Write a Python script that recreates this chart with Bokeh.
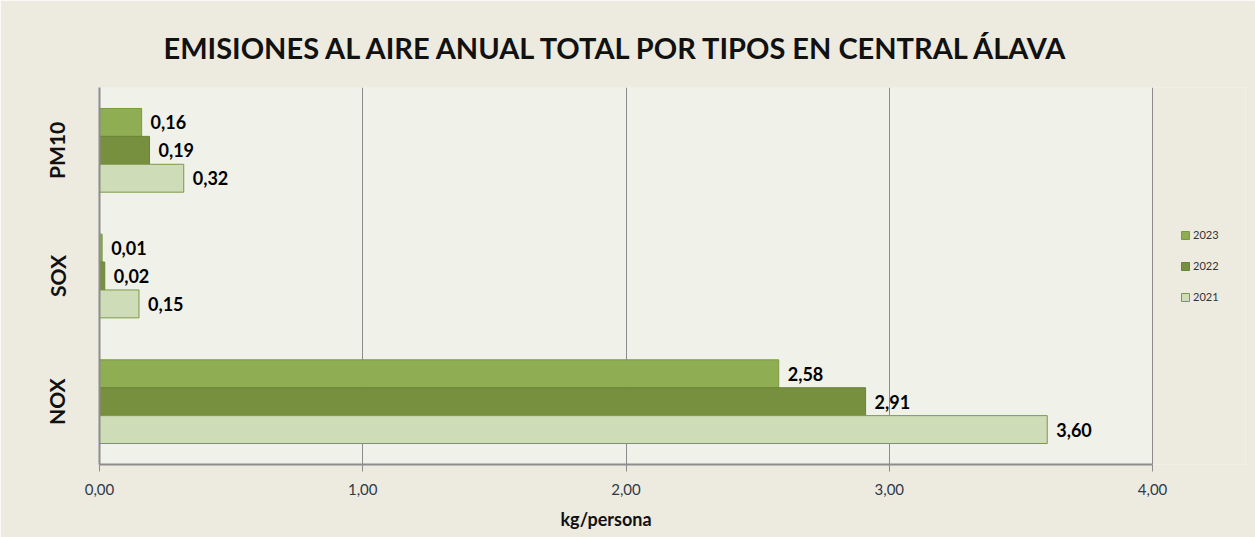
from bokeh.plotting import figure
from bokeh.models import (FactorRange, Range1d, ColumnDataSource, Legend, LegendItem,
                          FixedTicker, BoxAnnotation, Title)
from bokeh.transform import dodge
from bokeh.core.properties import value
from bokeh.embed import file_html
from bokeh.resources import INLINE

categories = ["NOX", "SOX", "PM10"]
years = ["2023", "2022", "2021"]
v2023 = [2.58, 0.01, 0.16]
v2022 = [2.91, 0.02, 0.19]
v2021 = [3.60, 0.15, 0.32]
x_ticks = [0, 1, 2, 3, 4]
x_tick_labels = ["0,00", "1,00", "2,00", "3,00", "4,00"]
x_max = 4

FONT = "Lato"
OUTER = "#EDEAE0"
INNER = "#F0F1E9"
fills = {"2023": "#8FAE53", "2022": "#76903F", "2021": "#CEDCB8"}
lines = {"2023": "#7A9A40", "2022": "#6A8436", "2021": "#7C9A45"}
offsets = {"2023": 0.222, "2022": 0.0, "2021": -0.222}
series = {"2023": v2023, "2022": v2022, "2021": v2021}

# frame spans the legend area too; the axis/plot area itself covers 0..4
p = figure(width=1255, height=537, output_backend="svg", toolbar_location=None,
           y_range=FactorRange(factors=categories), x_range=Range1d(0, 4.353),
           min_border_left=99, min_border_right=10, min_border_top=87, min_border_bottom=72,
           background_fill_color=OUTER, border_fill_color=OUTER,
           title="EMISIONES AL AIRE ANUAL TOTAL POR TIPOS EN CENTRAL ÁLAVA")
p.outline_line_color = None

p.add_layout(BoxAnnotation(left=0, right=x_max, fill_color=INNER, fill_alpha=1,
                           line_color=None, level="image"))

p.title.text_font = FONT
p.title.text_font_size = "29px"
p.title.text_font_style = "bold"
p.title.text_color = "#111111"
p.title.align = "left"
p.title.offset = 64
p.title.standoff = 46

xlabel = Title(text="kg/persona", align="left", offset=461, standoff=16,
               text_font=FONT, text_font_size="18px", text_font_style="bold", text_color="#111111")
p.add_layout(xlabel, "below")

items = []
for yr in years:
    src = ColumnDataSource(dict(cat=categories, val=series[yr],
                                lbl=[f"{v:.2f}".replace(".", ",") for v in series[yr]]))
    r = p.hbar(y=dodge("cat", offsets[yr], range=p.y_range), left=0, right="val", height=0.222,
               source=src, fill_color=fills[yr], line_color=lines[yr], line_width=1)
    p.text(x="val", y=dodge("cat", offsets[yr], range=p.y_range), text="lbl", source=src,
           x_offset=9, text_baseline="middle", text_align="left",
           text_font=value(FONT), text_font_style="bold", text_font_size="18px", text_color="#000000")
    items.append(LegendItem(label=yr, renderers=[r]))

legend = Legend(items=items, location=(1081, 161), padding=0, margin=0, spacing=18,
                glyph_width=10, glyph_height=10, label_height=10, label_standoff=3,
                label_text_font=FONT, label_text_font_size="11px", label_text_color="#333333",
                background_fill_alpha=0, border_line_color=None)
p.add_layout(legend, "center")

p.xaxis.bounds = (0, x_max)
p.xaxis.ticker = FixedTicker(ticks=x_ticks)
p.xaxis.major_label_overrides = {t: l for t, l in zip(x_ticks, x_tick_labels)}
p.xaxis.major_label_text_font = FONT
p.xaxis.major_label_text_font_size = "15px"
p.xaxis.major_label_text_color = "#2F3A4A"
p.xaxis.major_label_standoff = 12
p.xaxis.axis_line_color = "#8C8C8C"
p.xaxis.axis_line_width = 2
p.xaxis.major_tick_line_color = "#8C8C8C"
p.xaxis.major_tick_out = 7
p.xaxis.major_tick_in = 0
p.xaxis.minor_tick_line_color = None

p.yaxis.major_label_orientation = "vertical"
p.yaxis.major_label_text_font = FONT
p.yaxis.major_label_text_font_style = "bold"
p.yaxis.major_label_text_font_size = "21px"
p.yaxis.major_label_text_color = "#111111"
p.yaxis.major_label_standoff = 24
p.yaxis.axis_line_color = "#8C8C8C"
p.yaxis.axis_line_width = 2
p.yaxis.major_tick_line_color = None

p.xgrid.grid_line_color = "#8C8C8C"
p.xgrid.grid_line_width = 1
p.xgrid.bounds = (0, x_max)
p.ygrid.grid_line_color = None

open("out.html", "w").write(file_html(p, INLINE))
